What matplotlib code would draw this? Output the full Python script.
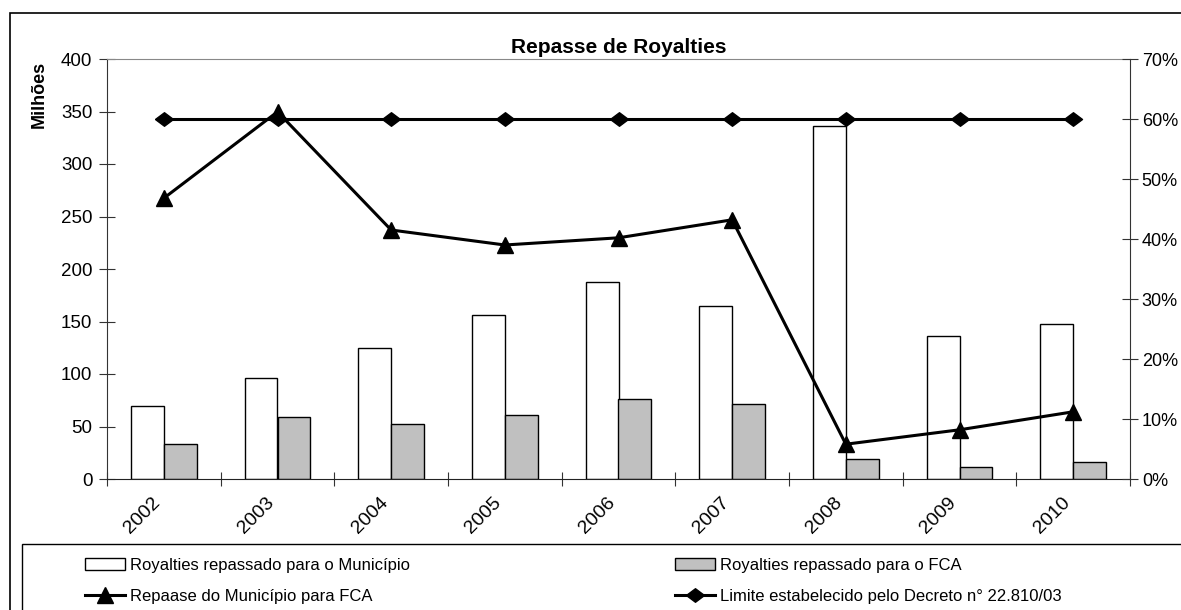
import matplotlib
matplotlib.use("Agg")
import matplotlib.pyplot as plt
from matplotlib.patches import Rectangle
from matplotlib.transforms import ScaledTranslation
import numpy as np

plt.rcParams['font.family'] = ['Liberation Sans', 'DejaVu Sans']

anos = ['2002', '2003', '2004', '2005', '2006', '2007', '2008', '2009', '2010']
municipio = [70, 96, 125, 156, 188, 165, 336, 136, 148]
fca = [33, 59, 52, 61, 76, 71, 19, 11, 16]
repasse_pct = [46.8, 61.2, 41.5, 39.0, 40.2, 43.2, 5.8, 8.2, 11.2]
limite_pct = [60, 60, 60, 60, 60, 60, 60, 60, 60]

fig = plt.figure(figsize=(11.81, 6.10), dpi=100)
W, H = 1181, 610

# moldura externa e caixa da legenda
fig.patches.append(Rectangle((10 / W, -0.1), 1.2, 1 - 13 / H + 0.1, transform=fig.transFigure,
                             fill=False, edgecolor='black', lw=1.2))
fig.patches.append(Rectangle((22 / W, -0.1), 1.2, 1 - 544 / H + 0.1, transform=fig.transFigure,
                             fill=False, edgecolor='black', lw=1.0))

ax = fig.add_axes([107 / W, 1 - 479 / H, (1130 - 107) / W, (479 - 59) / H])
x = np.arange(len(anos))
w = 0.29
b1 = ax.bar(x - w / 2, municipio, w, color='white', edgecolor='black', lw=1.0, zorder=2)
b2 = ax.bar(x + w / 2, fca, w, color='#c0c0c0', edgecolor='black', lw=1.0, zorder=2)
ax.set_xlim(-0.5, len(anos) - 0.5)
ax.set_ylim(0, 400)
ax.set_yticks(np.arange(0, 401, 50))
ax.set_xticks(np.arange(-0.5, len(anos), 1))
ax.set_xticklabels([])
ax.set_xticks(x, minor=True)
ax.set_xticklabels(anos, minor=True, rotation=45, ha='right', va='top',
                   rotation_mode='anchor', fontsize=14)
ax.tick_params(axis='x', which='minor', length=0, pad=11)
desloc = ScaledTranslation(-12 / 100, 0, fig.dpi_scale_trans)
for lab in ax.get_xticklabels(minor=True):
    lab.set_transform(lab.get_transform() + desloc)
ax.tick_params(axis='x', which='major', direction='inout', length=10, color='#333333')
ax.tick_params(axis='y', direction='inout', length=11, labelsize=13.5, pad=5, color='#333333')
ax.spines['top'].set_color('#888888')
ax.spines['right'].set_visible(False)
ax.spines['left'].set_color('#333333')
ax.spines['bottom'].set_color('#222222')
ax.set_ylabel('Milhões', fontsize=13, fontweight='bold')
ax.yaxis.set_label_coords(-0.0575, 0.915)
ax.set_title('Repasse de Royalties', fontsize=15, fontweight='bold', pad=4)

losango = [(-1, 0), (0, 0.75), (1, 0), (0, -0.75), (-1, 0)]
ax2 = ax.twinx()
l1, = ax2.plot(x, repasse_pct, color='black', lw=2.2, marker='^', markersize=12, zorder=3)
l2, = ax2.plot(x, limite_pct, color='black', lw=2.2, marker=losango, markersize=13, zorder=3)
ax2.set_ylim(0, 70)
ax2.set_yticks(np.arange(0, 71, 10))
ax2.set_yticklabels([f'{v}%' for v in range(0, 71, 10)])
ax2.tick_params(axis='y', direction='inout', length=11, labelsize=13, pad=3, color='#333333')
for s in ['top', 'left', 'bottom']:
    ax2.spines[s].set_visible(False)
ax2.spines['right'].set_color('#333333')

kw = dict(frameon=False, fontsize=12, handlelength=2.4, handletextpad=0.35,
          labelspacing=0.95, loc='upper left', borderaxespad=0)
fig.legend([b1, l1], ['Royalties repassado para o Município', 'Repaase do Município para FCA'],
           bbox_to_anchor=(78 / W, 1 - 551 / H), **kw)
fig.legend([b2, l2], ['Royalties repassado para o FCA', 'Limite estabelecido pelo Decreto n° 22.810/03'],
           bbox_to_anchor=(668 / W, 1 - 551 / H), **kw)

fig.savefig('out.png', dpi=100)
